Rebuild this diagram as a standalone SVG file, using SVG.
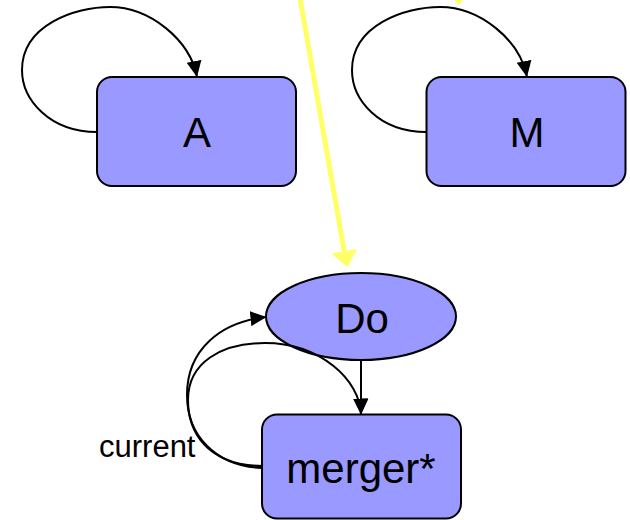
<svg xmlns="http://www.w3.org/2000/svg" width="630" height="520" viewBox="0 0 630 520">
  <defs>
    <marker id="arrow" markerUnits="userSpaceOnUse" markerWidth="16" markerHeight="16" refX="16" refY="7.5" orient="auto">
      <path d="M0,0 L16,7.5 L0,15 z" fill="#000"/>
    </marker>
  </defs>
  <style>
    .node { fill: #9999ff; stroke: #000; stroke-width: 2; }
    .label { font-family: "Liberation Sans", Arial, sans-serif; font-size: 42px; fill: #000; text-anchor: middle; }
    .edge { fill: none; stroke: #000; stroke-width: 2; marker-end: url(#arrow); }
    .small { font-family: "Liberation Sans", Arial, sans-serif; font-size: 31px; fill: #000; }
    .hl { stroke: #ffff66; stroke-width: 5; fill: none; }
  </style>
  <rect width="630" height="520" fill="#fff"/>

  <!-- highlight pointers -->
  <g id="highlight">
    <line class="hl" x1="300" y1="-2" x2="344.2" y2="251.2"/>
    <polygon points="347.5,267.3 357,248.9 331.4,253.5" fill="#ffff66"/>
    <polygon points="452,-2 465,-2 459,5" fill="#ffff66"/>
  </g>

  <g id="node-A">
    <rect class="node" x="97" y="77" width="199" height="109" rx="15" ry="15"/>
    <text class="label" x="197" y="147">A</text>
  </g>
  <g id="node-M">
    <rect class="node" x="426.5" y="77" width="199" height="109" rx="15" ry="15"/>
    <text class="label" x="527" y="147">M</text>
  </g>
  <g id="node-Do">
    <ellipse class="node" cx="361" cy="316.5" rx="95" ry="43.5"/>
    <text class="label" x="362" y="333">Do</text>
  </g>
  <g id="node-merger">
    <rect class="node" x="262" y="414.5" width="199" height="104" rx="15" ry="15"/>
    <text class="label" x="361" y="483">merger*</text>
  </g>

  <g id="connectors">
    <!-- self loops -->
    <path class="edge" d="M97,132 C50,132 22,100 22,70 C22,25 75,7 110,7 C150,7 190,40 197,77"/>
    <path class="edge" d="M426.5,132 C379,132 352,100 352,70 C352,25 405,7 440,7 C480,7 520,40 527,77"/>
    <!-- Do to merger* -->
    <path class="edge" d="M361,360 L361,414.5"/>
    <!-- merger* back to Do -->
    <path class="edge" d="M262,468 C215,466 187,435 187,395 C187,350 220,322 266.5,317"/>
    <!-- merger* to merger* via current -->
    <path class="edge" d="M262,466 C205,465 188,430 188,400 C188,362 222,343 265,343 C320,343 360,380 361,414.5"/>
    <text class="small" x="99" y="457">current</text>
  </g>
</svg>
